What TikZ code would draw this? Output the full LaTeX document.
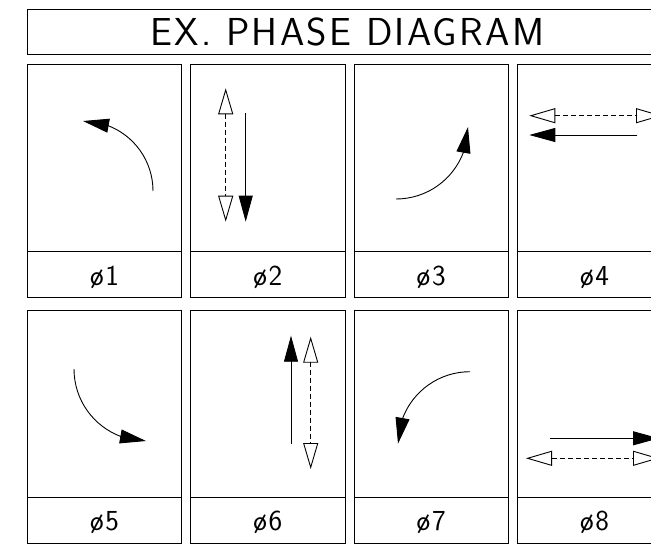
\documentclass[tikz,border=0pt]{standalone}
\usepackage{fontspec}
\usepackage{tikz}
\usetikzlibrary{arrows.meta, bending}
\newfontfamily\cadfont{Latin Modern Sans}[LetterSpace=6]

\begin{document}
\begin{tikzpicture}[x=1pt, y=-1pt, line width=0.9pt,
    filltip/.style={-{Triangle[length=26pt, width=14pt]}},
    opentips/.style={dash pattern=on 5pt off 3pt, {Triangle[open, length=26pt, width=15pt]}-{Triangle[open, length=26pt, width=15pt]}},
    phlbl/.style={anchor=base, inner sep=0pt, font=\cadfont\fontsize{29}{29}\selectfont}]
    \useasboundingbox (0,0) rectangle (651,544);
    % title
    \draw (27.3,9.7) rectangle (671,54);
    \node[anchor=base, inner sep=0pt, font=\cadfont\fontsize{39}{39}\selectfont] (title) at (347.5,45.3) {EX.\ PHASE\ DIAGRAM};
    % panels
    \foreach \c in {0,...,3} \foreach \r in {0,1} {
        \draw (27.3+163.35*\c, 64.3+245.7*\r) rectangle +(154.4,233.4);
        \draw (27.3+163.35*\c, 251.7+245.7*\r) -- +(154.4,0);
    }
    \foreach \n/\x/\y in {1/104.5/285, 2/267.85/285, 3/431.2/285, 4/594.55/285, 5/104.5/530.7, 6/267.85/530.7, 7/431.2/530.7, 8/594.55/530.7}
        \node[phlbl] (ph\n) at (\x,\y) {ø\n};
    % arcs
    \coordinate (a1) at (153,191); \coordinate (a3) at (396,199); \coordinate (a5) at (74,369); \coordinate (a7) at (470,371.7);
    \draw[filltip] (a1) arc[start angle=0, end angle=-90, radius=70];
    \draw[filltip] (a3) arc[start angle=90, end angle=0, radius=72];
    \draw[filltip] (a5) arc[start angle=180, end angle=90, radius=72];
    \draw[filltip] (a7) arc[start angle=-90, end angle=-180, radius=72];
    % straight arrows
    \coordinate (d2s) at (225.7,88.3); \coordinate (d2e) at (225.7,221.7);
    \coordinate (s2s) at (245.7,113.3); \coordinate (s2e) at (245.7,221.7);
    \coordinate (d4s) at (529.3,115.7); \coordinate (d4e) at (662,115.7);
    \coordinate (s4s) at (637.3,135); \coordinate (s4e) at (529.3,135);
    \coordinate (s6s) at (291,444.3); \coordinate (s6e) at (291,335.7);
    \coordinate (d6s) at (310.7,336.7); \coordinate (d6e) at (310.7,469);
    \coordinate (s8s) at (550,438.3); \coordinate (s8e) at (659,438.3);
    \coordinate (d8s) at (526,458.3); \coordinate (d8e) at (659,458.3);
    \draw[opentips] (d2s) -- (d2e); \draw[filltip] (s2s) -- (s2e);
    \draw[opentips] (d4s) -- (d4e); \draw[filltip] (s4s) -- (s4e);
    \draw[filltip] (s6s) -- (s6e); \draw[opentips] (d6s) -- (d6e);
    \draw[filltip] (s8s) -- (s8e); \draw[opentips] (d8s) -- (d8e);
\end{tikzpicture}
\end{document}
